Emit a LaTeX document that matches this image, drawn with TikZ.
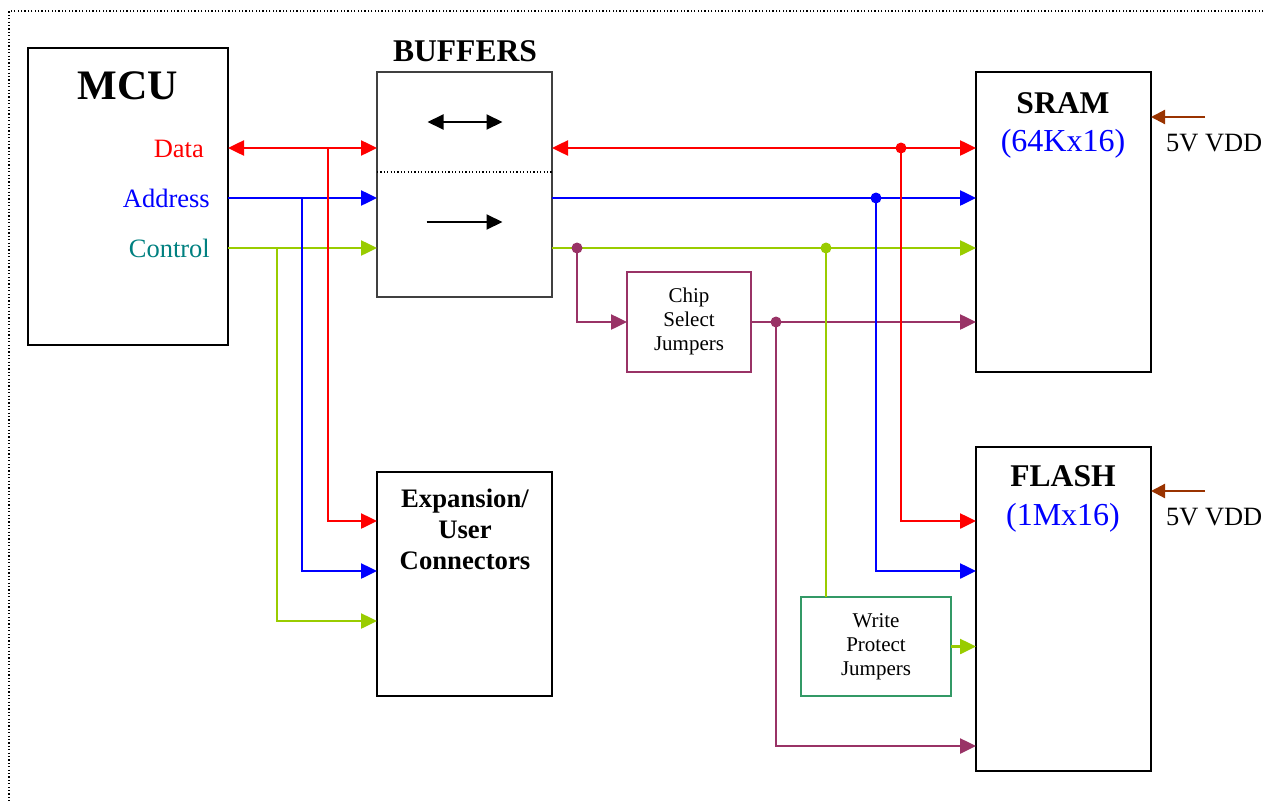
\documentclass[tikz,border=0pt]{standalone}
\usepackage{fontspec}
\setmainfont{Liberation Serif}
\usetikzlibrary{arrows.meta}
\definecolor{cred}{RGB}{255,0,0}
\definecolor{cblue}{RGB}{0,0,255}
\definecolor{cgreen}{RGB}{153,204,0}
\definecolor{cpurple}{RGB}{153,51,102}
\definecolor{cbrown}{RGB}{153,51,0}
\definecolor{cteal}{RGB}{0,128,128}
\definecolor{cwp}{RGB}{51,153,102}
\newcommand\fsz[1]{\fontsize{#1}{#1}\selectfont}
\begin{document}
\begin{tikzpicture}[x=1pt,y=-1pt,
  tip/.tip={Triangle[length=16pt,width=15pt]},
  blk/.style={draw=black,line width=2.2pt,outer sep=0pt,inner sep=0pt},
  wire/.style={line width=2.5pt},
  dot/.style={circle,fill,inner sep=0pt,minimum size=11pt},
  lbl/.style={inner sep=0pt,anchor=base},
]
\useasboundingbox (0,0) rectangle (1265,800);
% outer dotted frame
\draw[line width=1.2pt,dash pattern=on 1.2pt off 2.2pt] (1270,11) -- (9,11) -- (9,805);

% boxes
\node[blk,minimum width=200pt,minimum height=297pt] (mcu) at (128,196.5) {};
\node[blk,draw=black!75,line width=1.8pt,minimum width=175pt,minimum height=225pt] (buf) at (464.5,184.5) {};
\node[blk,minimum width=175pt,minimum height=224pt] (exp) at (464.5,584) {};
\node[blk,minimum width=175pt,minimum height=300pt] (sram) at (1063.5,222) {};
\node[blk,minimum width=175pt,minimum height=324pt] (flash) at (1063.5,609) {};
\node[blk,draw=cpurple,minimum width=124pt,minimum height=100pt] (cs) at (689,322) {};
\node[blk,draw=cwp,minimum width=150pt,minimum height=99pt] (wp) at (876,646.5) {};

% buffer internals
\draw[line width=1.2pt,dash pattern=on 1.2pt off 2.2pt] ([yshift=12.5pt]buf.west) -- ([yshift=12.5pt]buf.east);
\draw[line width=2pt,tip-tip] ([xshift=-37pt,yshift=62.5pt]buf.center) -- ([xshift=38pt,yshift=62.5pt]buf.center);
\draw[line width=2pt,-tip] ([xshift=-38pt,yshift=-37.5pt]buf.center) -- ([xshift=38pt,yshift=-37.5pt]buf.center);

% levels
\coordinate (yD) at (0,148);
\coordinate (yA) at (0,198);
\coordinate (yC) at (0,248);
\coordinate (eD) at (0,521);
\coordinate (eA) at (0,571);
\coordinate (eC) at (0,621);
\coordinate (fCS) at (0,746);
\coordinate (v1) at (1205,117);
\coordinate (v2) at (1205,491);

% junctions
\coordinate (jD1) at (328,148);
\coordinate (jA1) at (302,198);
\coordinate (jC1) at (277,248);
\coordinate (jD2) at (901,148);
\coordinate (jA2) at (876,198);
\coordinate (jC2) at (826,248);
\coordinate (jP1) at (577,248);
\coordinate (jP2) at (776,322);

% MCU to buffers
\draw[wire,cred,tip-tip] (mcu.east |- yD) -- (buf.west |- yD);
\draw[wire,cblue,-tip] (mcu.east |- yA) -- (buf.west |- yA);
\draw[wire,cgreen,-tip] (mcu.east |- yC) -- (buf.west |- yC);
% to expansion
\draw[wire,cred,-tip] (jD1) |- (exp.west |- eD);
\draw[wire,cblue,-tip] (jA1) |- (exp.west |- eA);
\draw[wire,cgreen,-tip] (jC1) |- (exp.west |- eC);

% buffers to SRAM
\draw[wire,cgreen,-tip] (buf.east |- yC) -- (sram.west |- yC);
\draw[wire,cpurple,-tip] (jP1) |- (cs.west);
\draw[wire,cpurple,-tip] (cs.east) -- (sram.west |- cs.east);
\draw[wire,cpurple,-tip] (jP2) |- (flash.west |- fCS);
\draw[wire,cgreen] (jC2) -- (jC2 |- wp.north);
\draw[wire,cgreen,-tip] (wp.east) -- (flash.west |- wp.east);
\draw[wire,cblue,-tip] (buf.east |- yA) -- (sram.west |- yA);
\draw[wire,cblue,-tip] (jA2) |- (flash.west |- eA);
\draw[wire,cred,tip-tip] (buf.east |- yD) -- (sram.west |- yD);
\draw[wire,cred,-tip] (jD2) |- (flash.west |- eD);

% VDD
\draw[line width=2.2pt,cbrown,-{Triangle[length=14pt,width=14pt]}] (v1) -- (sram.east |- v1);
\draw[line width=2.2pt,cbrown,-{Triangle[length=14pt,width=14pt]}] (v2) -- (flash.east |- v2);

% dots
\node[dot,cred] (dD) at (jD2) {};
\node[dot,cblue] (dA) at (jA2) {};
\node[dot,cgreen] (dC) at (jC2) {};
\node[dot,cpurple] (dP1) at (jP1) {};
\node[dot,cpurple] (dP2) at (jP2) {};

% texts
\node[lbl,font=\bfseries\fsz{42}] (tmcu) at (128,99) {MCU};
\node[lbl,anchor=base east,text=cred,font=\fsz{26.5}] (tdata) at (204,157) {Data};
\node[lbl,anchor=base east,text=cblue,font=\fsz{26.5}] (taddr) at (210,207) {Address};
\node[lbl,anchor=base east,text=cteal,font=\fsz{26.5}] (tctrl) at (210,257) {Control};
\node[lbl,font=\bfseries\fsz{31.6}] (tbuf) at (465,61) {BUFFERS};
\node[lbl,font=\bfseries\fsz{31.6}] (tsram) at (1063,113) {SRAM};
\node[lbl,text=cblue,font=\fsz{32}] (tsram2) at (1063,151) {(64Kx16)};
\node[lbl,anchor=base west,font=\fsz{26.4}] (tv1) at (1166,151) {5V VDD};
\node[lbl,font=\bfseries\fsz{31.6}] (tflash) at (1063,486) {FLASH};
\node[lbl,text=cblue,font=\fsz{32}] (tflash2) at (1063,525) {(1Mx16)};
\node[lbl,anchor=base west,font=\fsz{26.4}] (tv2) at (1166,525) {5V VDD};
\node[lbl,font=\bfseries\fsz{26.7}] (te1) at (465,507) {Expansion/};
\node[lbl,font=\bfseries\fsz{26.7}] (te2) at (465,538) {User};
\node[lbl,font=\bfseries\fsz{26.7}] (te3) at (465,569) {Connectors};
\node[lbl,font=\fsz{21}] (tc1) at (689,302) {Chip};
\node[lbl,font=\fsz{21}] (tc2) at (689,326) {Select};
\node[lbl,font=\fsz{21}] (tc3) at (689,350) {Jumpers};
\node[lbl,font=\fsz{21}] (tw1) at (876,627) {Write};
\node[lbl,font=\fsz{21}] (tw2) at (876,651) {Protect};
\node[lbl,font=\fsz{21}] (tw3) at (876,675) {Jumpers};
\end{tikzpicture}
\end{document}
